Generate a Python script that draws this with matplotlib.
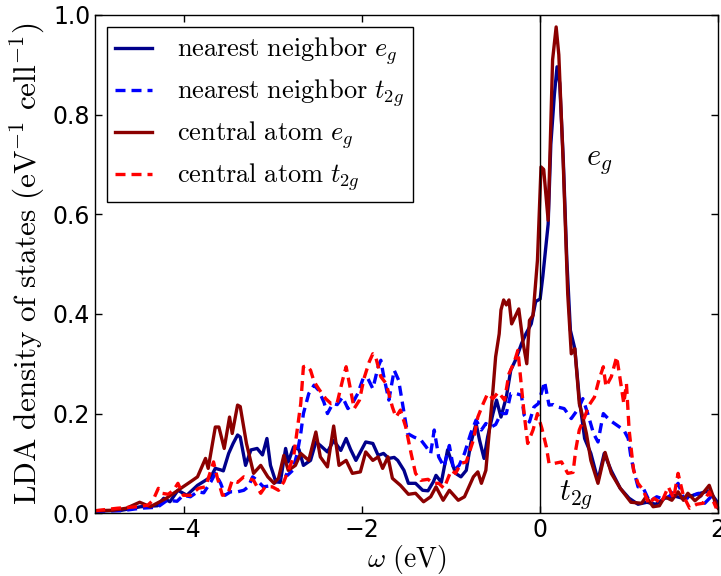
import matplotlib
matplotlib.use('Agg')
import matplotlib.pyplot as plt

plt.rcParams['mathtext.fontset'] = 'cm'
plt.rcParams['xtick.direction'] = 'in'
plt.rcParams['ytick.direction'] = 'in'
plt.rcParams['xtick.top'] = True
plt.rcParams['ytick.right'] = True

# nearest neighbor e_g (solid, dark blue)
nn_eg_x = [-5.0, -4.7, -4.49, -4.30, -4.23, -4.16, -4.07, -3.97, -3.85, -3.76,
           -3.70, -3.65, -3.59, -3.56, -3.50, -3.45, -3.40, -3.37, -3.31, -3.25,
           -3.18, -3.12, -3.07, -3.03, -2.97, -2.92, -2.86, -2.83, -2.77, -2.71,
           -2.66, -2.58, -2.52, -2.47, -2.39, -2.32, -2.24, -2.18, -2.13, -2.07,
           -1.96, -1.88, -1.82, -1.76, -1.70, -1.64, -1.60, -1.53, -1.48, -1.40,
           -1.32, -1.26, -1.20, -1.17, -1.11, -1.04, -1.00, -0.95, -0.89, -0.83,
           -0.78, -0.72, -0.68, -0.63, -0.59, -0.53, -0.49, -0.44, -0.38, -0.33,
           -0.27, -0.21, -0.16, -0.10, -0.05, 0.0, 0.03, 0.09, 0.12, 0.16,
           0.19, 0.22, 0.26, 0.30, 0.34, 0.39, 0.44, 0.50, 0.57, 0.65,
           0.72, 0.80, 0.90, 1.0, 1.1, 1.2, 1.3, 1.4, 1.5, 1.6,
           1.7, 1.8, 1.9, 2.0]
nn_eg_y = [0.004, 0.006, 0.013, 0.015, 0.03, 0.023, 0.046, 0.036, 0.056, 0.066,
           0.073, 0.09, 0.087, 0.085, 0.12, 0.14, 0.157, 0.153, 0.096, 0.127,
           0.13, 0.117, 0.15, 0.096, 0.063, 0.062, 0.13, 0.103, 0.133, 0.128,
           0.096, 0.106, 0.143, 0.136, 0.123, 0.146, 0.126, 0.15, 0.128, 0.106,
           0.143, 0.14, 0.116, 0.12, 0.11, 0.112, 0.106, 0.086, 0.06, 0.06,
           0.046, 0.045, 0.063, 0.076, 0.062, 0.127, 0.106, 0.08, 0.073, 0.086,
           0.14, 0.18, 0.146, 0.11, 0.153, 0.2, 0.227, 0.193, 0.233, 0.287,
           0.31, 0.34, 0.36, 0.38, 0.425, 0.43, 0.475, 0.58, 0.74, 0.84,
           0.896, 0.863, 0.71, 0.508, 0.367, 0.33, 0.23, 0.15, 0.12, 0.066,
           0.12, 0.085, 0.05, 0.03, 0.018, 0.022, 0.018, 0.03, 0.035, 0.03,
           0.035, 0.04, 0.045, 0.02]

# nearest neighbor t_2g (dashed, blue)
nn_t2g_x = [-5.0, -4.7, -4.49, -4.30, -4.19, -4.08, -4.01, -3.93, -3.85, -3.78,
            -3.70, -3.65, -3.59, -3.54, -3.48, -3.40, -3.33, -3.28, -3.23, -3.18,
            -3.11, -3.03, -2.97, -2.89, -2.84, -2.78, -2.73, -2.69, -2.66, -2.60,
            -2.54, -2.49, -2.43, -2.39, -2.33, -2.28, -2.22, -2.16, -2.11, -2.05,
            -1.99, -1.94, -1.88, -1.82, -1.79, -1.76, -1.70, -1.64, -1.59, -1.54,
            -1.49, -1.42, -1.34, -1.28, -1.23, -1.19, -1.14, -1.08, -1.02, -0.97,
            -0.91, -0.85, -0.78, -0.72, -0.66, -0.61, -0.55, -0.50, -0.44, -0.38,
            -0.33, -0.27, -0.21, -0.18, -0.12, -0.07, -0.02, 0.05, 0.10, 0.15,
            0.20, 0.27, 0.35, 0.43, 0.48, 0.54, 0.60, 0.65, 0.71, 0.78,
            0.86, 0.94, 0.99, 1.02, 1.06, 1.10, 1.16, 1.23, 1.31, 1.39,
            1.46, 1.55, 1.62, 1.70, 1.78, 1.85, 1.93, 2.0]
nn_t2g_y = [0.004, 0.005, 0.01, 0.012, 0.026, 0.024, 0.036, 0.033, 0.043, 0.041,
            0.063, 0.08, 0.06, 0.036, 0.043, 0.043, 0.046, 0.053, 0.073, 0.066,
            0.053, 0.055, 0.063, 0.08, 0.076, 0.086, 0.12, 0.16, 0.2, 0.24,
            0.257, 0.247, 0.223, 0.2, 0.22, 0.218, 0.233, 0.21, 0.22, 0.24,
            0.27, 0.272, 0.25, 0.294, 0.307, 0.277, 0.227, 0.287, 0.267, 0.213,
            0.16, 0.153, 0.147, 0.133, 0.12, 0.167, 0.113, 0.093, 0.136, 0.086,
            0.096, 0.12, 0.16, 0.187, 0.167, 0.18, 0.173, 0.178, 0.2, 0.2,
            0.24, 0.24, 0.237, 0.197, 0.183, 0.213, 0.22, 0.264, 0.217, 0.218,
            0.213, 0.21, 0.19, 0.21, 0.23, 0.197, 0.16, 0.143, 0.2, 0.187,
            0.177, 0.167, 0.15, 0.113, 0.08, 0.053, 0.05, 0.023, 0.033, 0.028,
            0.035, 0.06, 0.027, 0.035, 0.04, 0.02, 0.035, 0.01]

# central atom e_g (solid, dark red)
ca_eg_x = [-5.0, -4.8, -4.65, -4.5, -4.38, -4.2, -4.07, -3.93, -3.85, -3.76,
           -3.73, -3.65, -3.61, -3.55, -3.49, -3.46, -3.40, -3.37, -3.30, -3.22,
           -3.14, -3.06, -2.99, -2.94, -2.88, -2.83, -2.75, -2.69, -2.60, -2.52,
           -2.47, -2.39, -2.32, -2.26, -2.18, -2.11, -2.02, -1.96, -1.88, -1.82,
           -1.77, -1.71, -1.66, -1.57, -1.48, -1.40, -1.31, -1.23, -1.17, -1.09,
           -1.02, -0.92, -0.85, -0.75, -0.70, -0.66, -0.61, -0.57, -0.53, -0.50,
           -0.46, -0.44, -0.41, -0.38, -0.35, -0.32, -0.24, -0.19, -0.15, -0.12,
           -0.08, -0.03, 0.01, 0.04, 0.09, 0.14, 0.18, 0.21, 0.26, 0.31,
           0.35, 0.39, 0.44, 0.47, 0.52, 0.57, 0.65, 0.73, 0.80, 0.90,
           1.02, 1.14, 1.19, 1.27, 1.34, 1.40, 1.48, 1.55, 1.61, 1.66,
           1.74, 1.81, 1.90, 1.96, 2.0]
ca_eg_y = [0.005, 0.006, 0.01, 0.022, 0.013, 0.03, 0.046, 0.063, 0.073, 0.11,
           0.09, 0.173, 0.173, 0.13, 0.193, 0.16, 0.217, 0.214, 0.14, 0.08,
           0.096, 0.073, 0.06, 0.07, 0.116, 0.086, 0.096, 0.12, 0.106, 0.163,
           0.113, 0.093, 0.175, 0.096, 0.106, 0.08, 0.083, 0.123, 0.106, 0.113,
           0.09, 0.113, 0.07, 0.056, 0.038, 0.04, 0.023, 0.033, 0.053, 0.026,
           0.046, 0.026, 0.033, 0.073, 0.083, 0.06, 0.086, 0.167, 0.247, 0.314,
           0.36, 0.408, 0.428, 0.418, 0.428, 0.38, 0.41, 0.34, 0.30, 0.387,
           0.397, 0.508, 0.695, 0.69, 0.588, 0.91, 0.976, 0.92, 0.70, 0.44,
           0.32, 0.33, 0.22, 0.20, 0.16, 0.106, 0.06, 0.122, 0.08, 0.05,
           0.022, 0.02, 0.033, 0.013, 0.015, 0.033, 0.026, 0.043, 0.026, 0.04,
           0.025, 0.036, 0.056, 0.026, 0.01]

# central atom t_2g (dashed, red)
ca_t2g_x = [-5.0, -4.75, -4.53, -4.41, -4.35, -4.29, -4.25, -4.18, -4.12, -4.07,
            -4.01, -3.93, -3.84, -3.76, -3.70, -3.67, -3.63, -3.57, -3.51, -3.46,
            -3.40, -3.33, -3.28, -3.22, -3.14, -3.09, -3.01, -2.94, -2.88, -2.83,
            -2.77, -2.73, -2.69, -2.66, -2.62, -2.58, -2.54, -2.49, -2.41, -2.35,
            -2.28, -2.22, -2.18, -2.14, -2.09, -2.03, -1.98, -1.92, -1.88, -1.85,
            -1.79, -1.73, -1.66, -1.62, -1.57, -1.51, -1.45, -1.40, -1.34, -1.26,
            -1.20, -1.14, -1.08, -1.00, -0.95, -0.89, -0.83, -0.75, -0.70, -0.64,
            -0.59, -0.53, -0.47, -0.40, -0.35, -0.29, -0.25, -0.21, -0.18, -0.14,
            -0.08, -0.03, 0.02, 0.07, 0.10, 0.16, 0.24, 0.31, 0.37, 0.40,
            0.44, 0.50, 0.55, 0.61, 0.66, 0.71, 0.74, 0.80, 0.86, 0.89,
            0.94, 0.97, 1.00, 1.05, 1.10, 1.16, 1.22, 1.28, 1.36, 1.44,
            1.50, 1.55, 1.61, 1.68, 1.76, 1.83, 1.90, 1.98]
ca_t2g_y = [0.005, 0.01, 0.013, 0.016, 0.026, 0.05, 0.04, 0.038, 0.046, 0.06,
            0.036, 0.036, 0.05, 0.053, 0.086, 0.103, 0.073, 0.036, 0.038, 0.066,
            0.062, 0.073, 0.07, 0.066, 0.04, 0.053, 0.053, 0.046, 0.063, 0.086,
            0.113, 0.167, 0.22, 0.294, 0.296, 0.287, 0.264, 0.25, 0.23, 0.22,
            0.222, 0.267, 0.294, 0.257, 0.21, 0.227, 0.27, 0.304, 0.32, 0.315,
            0.274, 0.26, 0.213, 0.193, 0.207, 0.173, 0.12, 0.08, 0.066, 0.068,
            0.06, 0.06, 0.05, 0.086, 0.08, 0.1, 0.103, 0.147, 0.193, 0.22,
            0.24, 0.23, 0.243, 0.227, 0.28, 0.304, 0.327, 0.254, 0.2, 0.14,
            0.167, 0.2, 0.17, 0.133, 0.1, 0.1, 0.103, 0.08, 0.082, 0.127,
            0.167, 0.193, 0.217, 0.233, 0.267, 0.294, 0.254, 0.274, 0.314, 0.28,
            0.22, 0.26, 0.167, 0.086, 0.06, 0.046, 0.018, 0.03, 0.02, 0.053,
            0.03, 0.08, 0.035, 0.01, 0.018, 0.02, 0.043, 0.01]

labels = [r'$\mathrm{nearest\ neighbor}\ e_g$',
          r'$\mathrm{nearest\ neighbor}\ t_{2g}$',
          r'$\mathrm{central\ atom}\ e_g$',
          r'$\mathrm{central\ atom}\ t_{2g}$']

fig = plt.figure(figsize=(7.21, 5.76), dpi=100)
ax = fig.add_axes([0.132, 0.109, 0.864, 0.865])

dash = (3, 1.8)
ax.plot(nn_eg_x, nn_eg_y, color='#00008b', lw=2.4, label=labels[0])
ax.plot(nn_t2g_x, nn_t2g_y, color='#0000ff', lw=2.4, dashes=dash, label=labels[1])
ax.plot(ca_eg_x, ca_eg_y, color='#8b0000', lw=2.4, label=labels[2])
ax.plot(ca_t2g_x, ca_t2g_y, color='#ff0000', lw=2.4, dashes=dash, label=labels[3])
ax.axvline(0, color='black', lw=1)

ax.set_xlim(-5, 2)
ax.set_ylim(0, 1.0)
ax.set_xticks([-4, -2, 0, 2])
ax.set_yticks([0.0, 0.2, 0.4, 0.6, 0.8, 1.0])
ax.tick_params(labelsize=17, length=5, width=1)
for s in ax.spines.values():
    s.set_linewidth(1)

ax.set_xlabel(r'$\omega\ \mathrm{(eV)}$', fontsize=20, labelpad=1)
ax.set_ylabel(r'$\mathrm{LDA\ density\ of\ states\ (eV^{-1}\ cell^{-1})}$',
              fontsize=22.5, labelpad=4)

ax.text(0.52, 0.70, r'$e_g$', fontsize=22)
ax.text(0.21, 0.026, r'$t_{2g}$', fontsize=22)

# legend box placed where the reference has it (figure pixels)
leg = ax.legend(loc='upper left', bbox_to_anchor=(107/721, 1 - 27/576),
                bbox_transform=fig.transFigure, borderaxespad=0, fontsize=19,
                fancybox=False, framealpha=1, edgecolor='black',
                handlelength=1.4, handletextpad=0.95, labelspacing=0.38,
                borderpad=0.32)
leg.get_frame().set_linewidth(1)

fig.savefig('out.png', dpi=100)
